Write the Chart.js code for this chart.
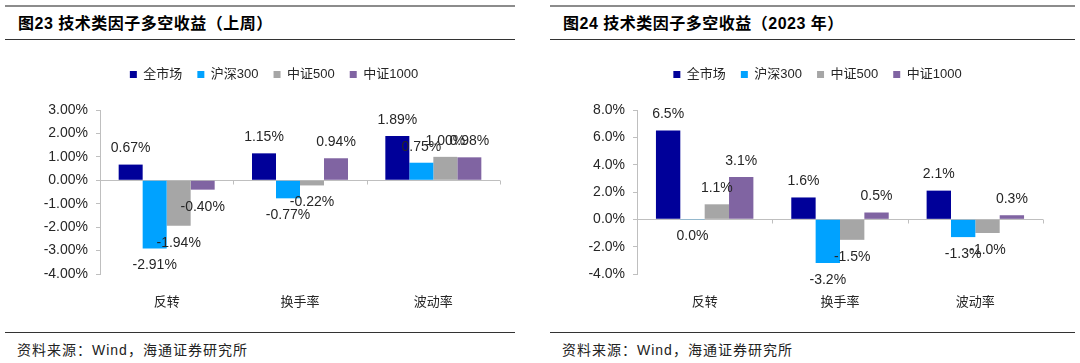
<!DOCTYPE html>
<html>
<head>
<meta charset="utf-8">
<script src="https://cdn.jsdelivr.net/npm/chart.js@4.4.1/dist/chart.umd.min.js"></script>
<style>
  body { margin: 0; width: 1080px; height: 363px; background: #fff; position: relative; overflow: hidden;
         font-family: "Liberation Sans", "Noto Sans CJK SC", sans-serif; color: #000; }
  .rule-top { position: absolute; top: 5px; height: 2px; background: #8c8c8c; }
  .rule { position: absolute; height: 1px; background: #333; }
  .title { position: absolute; top: 14px; font-size: 16px; font-weight: bold; line-height: 20px; white-space: nowrap; letter-spacing: 0.5px; }
  .source { position: absolute; top: 341px; font-size: 14px; line-height: 18px; color: #222; white-space: nowrap; letter-spacing: 1px; }
  canvas { position: absolute; top: 53px; }
</style>
</head>
<body>
<div class="rule-top" style="left:5px;width:510px"></div>
<div class="rule-top" style="left:550px;width:525px"></div>
<div class="title" style="left:18px">图23 技术类因子多空收益（上周）</div>
<div class="title" style="left:563px">图24 技术类因子多空收益（2023 年）</div>
<div class="rule" style="left:5px;width:510px;top:39px"></div>
<div class="rule" style="left:550px;width:525px;top:39px"></div>

<canvas id="weekChart" width="540" height="261" style="left:0"></canvas>
<canvas id="yearChart" width="540" height="261" style="left:540px"></canvas>

<div class="rule" style="left:5px;width:510px;top:332px"></div>
<div class="rule" style="left:550px;width:525px;top:332px"></div>
<div class="source" style="left:17px">资料来源：Wind，海通证券研究所</div>
<div class="source" style="left:562px">资料来源：Wind，海通证券研究所</div>

<script>
// Categories and series
const categories = ['反转', '换手率', '波动率'];
const seriesNames = ['全市场', '沪深300', '中证500', '中证1000'];
const seriesColors = ['#000099', '#00A2FF', '#A6A6A6', '#8064A2'];

// 上周 (%)
const weekAll = [0.67, 1.15, 1.89];
const weekHs300 = [-2.91, -0.77, 0.75];
const weekZz500 = [-1.94, -0.22, 1.00];
const weekZz1000 = [-0.40, 0.94, 0.98];

// 2023 年 (%)
const yearAll = [6.5, 1.6, 2.1];
const yearHs300 = [-0.02, -3.2, -1.3];
const yearZz500 = [1.1, -1.5, -1.0];
const yearZz1000 = [3.1, 0.5, 0.3];

// y axis: min, max, step
const weekRange = [-4, 3, 1];
const yearRange = [-4, 8, 2];

const axisGray = '#bfbfbf';
const textColor = '#262626';
const latin = '"Liberation Sans", Arial, "Noto Sans CJK SC", sans-serif';

function fmt(v, d) {
    let s = v.toFixed(d);
    if (Number(s) === 0) s = (0).toFixed(d);
    return s + '%';
}

// value labels outside bar ends
const barLabels = {
    id: 'barLabels',
    afterDatasetsDraw(chart, args, opts) {
        const ctx = chart.ctx;
        ctx.save();
        ctx.font = '14px ' + latin;
        ctx.fillStyle = textColor;
        ctx.textAlign = 'center';
        ctx.textBaseline = 'middle';
        chart.data.datasets.forEach((ds, i) => {
            chart.getDatasetMeta(i).data.forEach((bar, j) => {
                const v = ds.data[j];
                const y = v >= 0 ? bar.y - 16 : bar.y + 17;
                ctx.fillText(fmt(v, opts.decimals), bar.x, y);
            });
        });
        ctx.restore();
    }
};

// small marks on the zero line between categories
const zeroTicks = {
    id: 'zeroTicks',
    beforeDatasetsDraw(chart) {
        const ctx = chart.ctx;
        const x = chart.scales.x, y = chart.scales.y;
        const y0 = Math.round(y.getPixelForValue(0)) + 0.5;
        ctx.save();
        ctx.strokeStyle = axisGray;
        ctx.lineWidth = 1;
        ctx.beginPath();
        for (let i = 0; i <= categories.length; i++) {
            const px = Math.round(x.getPixelForValue(i - 0.5)) + 0.5;
            ctx.moveTo(px, y0);
            ctx.lineTo(px, y0 + 4);
        }
        ctx.stroke();
        ctx.restore();
    }
};

// extra room under the legend
const legendGap = {
    id: 'legendGap',
    beforeInit(chart) {
        const fit = chart.legend.fit;
        chart.legend.fit = function () {
            fit.bind(chart.legend)();
            this.height += 19;
        };
    }
};

function makeChart(id, data, range, decimals, pad, yWidth, rightWidth) {
    const ctx = document.getElementById(id).getContext('2d');
    return new Chart(ctx, {
        type: 'bar',
        data: {
            labels: categories,
            datasets: seriesNames.map((name, i) => ({
                label: name,
                data: data[i],
                backgroundColor: seriesColors[i],
                borderWidth: 0,
                categoryPercentage: 0.72,
                barPercentage: 1.0
            }))
        },
        options: {
            responsive: false,
            animation: false,
            layout: { padding: { left: pad[0], right: pad[1], top: 0, bottom: 0 } },
            plugins: {
                legend: {
                    position: 'top',
                    labels: {
                        boxWidth: 7, boxHeight: 7, padding: 15,
                        color: textColor,
                        font: { size: 13, family: latin }
                    }
                },
                tooltip: { enabled: false },
                barLabels: { decimals: decimals }
            },
            scales: {
                x: {
                    grid: { display: false },
                    border: { display: false },
                    ticks: { color: textColor, padding: 11, font: { size: 13, family: '"Noto Sans CJK SC", sans-serif' } },
                    afterFit(s) { s.height = 40; }
                },
                y: {
                    min: range[0], max: range[1],
                    ticks: {
                        stepSize: range[2], padding: 8, color: textColor,
                        font: { size: 14, family: latin },
                        callback: v => v.toFixed(decimals) + '%'
                    },
                    grid: {
                        color: c => c.tick && c.tick.value === 0 ? axisGray : 'rgba(0,0,0,0)',
                        tickColor: axisGray, tickLength: 4
                    },
                    border: { display: true, color: axisGray },
                    afterFit(s) { s.width = yWidth; }
                },
                // empty spacer on the right so the legend sits where the original does
                spacer: {
                    position: 'right',
                    display: true,
                    grid: { display: false },
                    border: { display: false },
                    ticks: { display: false },
                    afterFit(s) { s.width = rightWidth; }
                }
            }
        },
        plugins: [barLabels, zeroTicks, legendGap]
    });
}

makeChart('weekChart', [weekAll, weekHs300, weekZz500, weekZz1000], weekRange, 2, [30, 22], 70, 18);
makeChart('yearChart', [yearAll, yearHs300, yearZz500, yearZz1000], yearRange, 1, [35, 20], 62, 17);
</script>
</body>
</html>
